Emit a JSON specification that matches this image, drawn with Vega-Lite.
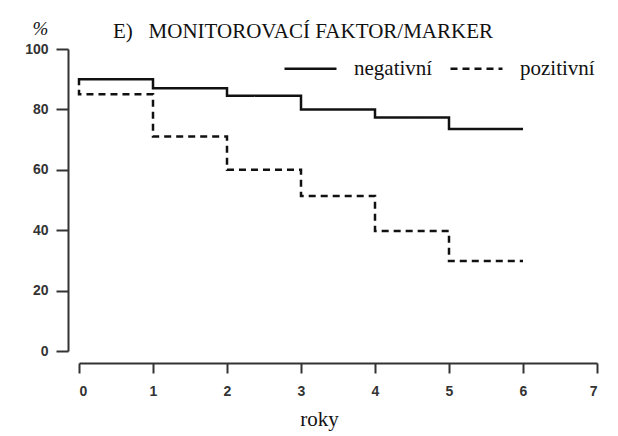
{
  "$schema": "https://vega.github.io/schema/vega-lite/v6.json",
  "width": 518,
  "height": 302,
  "autosize": {"type": "none"},
  "padding": {"left": 79, "top": 49, "right": 21, "bottom": 85},
  "background": "white",
  "config": {"view": {"stroke": null}, "font": "Liberation Serif"},
  "title": {
    "text": "E)\u00a0\u00a0 MONITOROVACÍ FAKTOR/MARKER",
    "anchor": "start",
    "frame": "group",
    "dx": 34,
    "dy": 51,
    "offset": 11,
    "baseline": "alphabetic",
    "font": "Liberation Serif",
    "fontSize": 21,
    "fontWeight": "normal",
    "color": "#111"
  },
  "data": {
    "values": [
      {"t": 0, "pct": 88, "group": "negativní", "ord": 0},
      {"t": 0, "pct": 90, "group": "negativní", "ord": 1},
      {"t": 1, "pct": 87, "group": "negativní", "ord": 2},
      {"t": 2, "pct": 84.5, "group": "negativní", "ord": 3},
      {"t": 3, "pct": 80, "group": "negativní", "ord": 4},
      {"t": 4, "pct": 77.3, "group": "negativní", "ord": 5},
      {"t": 5, "pct": 73.5, "group": "negativní", "ord": 6},
      {"t": 6, "pct": 73.5, "group": "negativní", "ord": 7},
      {"t": 0, "pct": 86.5, "group": "pozitivní", "ord": 0},
      {"t": 0, "pct": 85, "group": "pozitivní", "ord": 1},
      {"t": 1, "pct": 71, "group": "pozitivní", "ord": 2},
      {"t": 2, "pct": 60, "group": "pozitivní", "ord": 3},
      {"t": 3, "pct": 51.3, "group": "pozitivní", "ord": 4},
      {"t": 4, "pct": 39.7, "group": "pozitivní", "ord": 5},
      {"t": 5, "pct": 29.8, "group": "pozitivní", "ord": 6},
      {"t": 6, "pct": 29.8, "group": "pozitivní", "ord": 7}
    ]
  },
  "mark": {"type": "line", "interpolate": "step-after", "color": "#111", "strokeWidth": 2.5},
  "encoding": {
    "x": {
      "field": "t",
      "type": "quantitative",
      "scale": {"domain": [0, 7], "nice": false, "zero": false},
      "axis": {
        "values": [0, 1, 2, 3, 4, 5, 6, 7],
        "grid": false,
        "offset": 12,
        "domainColor": "#333",
        "domainWidth": 2,
        "tickColor": "#333",
        "tickWidth": 2,
        "tickSize": 10,
        "labelPadding": 11,
        "labelFont": "Liberation Sans",
        "labelFontWeight": "bold",
        "labelFontSize": 14,
        "labelColor": "#333",
        "title": "roky",
        "titleFont": "Liberation Serif",
        "titleFontSize": 21,
        "titleFontWeight": "normal",
        "titleColor": "#111",
        "titleX": 240,
        "titleY": 62,
        "titleAlign": "center",
        "titleBaseline": "alphabetic"
      }
    },
    "y": {
      "field": "pct",
      "type": "quantitative",
      "scale": {"domain": [0, 100], "nice": false},
      "axis": {
        "values": [0, 20, 40, 60, 80, 100],
        "grid": false,
        "offset": 11,
        "domainColor": "#333",
        "domainWidth": 2,
        "tickColor": "#333",
        "tickWidth": 2,
        "tickSize": 12,
        "labelPadding": 8,
        "labelFont": "Liberation Sans",
        "labelFontWeight": "bold",
        "labelFontSize": 14,
        "labelColor": "#333",
        "title": "%",
        "titleAngle": 0,
        "titleX": -28,
        "titleY": -21,
        "titleAlign": "center",
        "titleBaseline": "middle",
        "titleFont": "Liberation Serif",
        "titleFontStyle": "italic",
        "titleFontSize": 19,
        "titleFontWeight": "normal",
        "titleColor": "#111"
      }
    },
    "strokeDash": {
      "field": "group",
      "type": "nominal",
      "scale": {"domain": ["negativní", "pozitivní"], "range": [[1, 0], [7, 5]]},
      "legend": {
        "orient": "none",
        "legendX": 204,
        "legendY": -8,
        "direction": "horizontal",
        "title": null,
        "padding": 0,
        "symbolType": "stroke",
        "symbolSize": 2704,
        "symbolStrokeWidth": 2.5,
        "symbolStrokeColor": "#111",
        "labelFont": "Liberation Serif",
        "labelFontSize": 21,
        "labelColor": "#111",
        "labelOffset": 16,
        "columnPadding": 12
      }
    },
    "order": {"field": "ord", "type": "quantitative"}
  }
}
